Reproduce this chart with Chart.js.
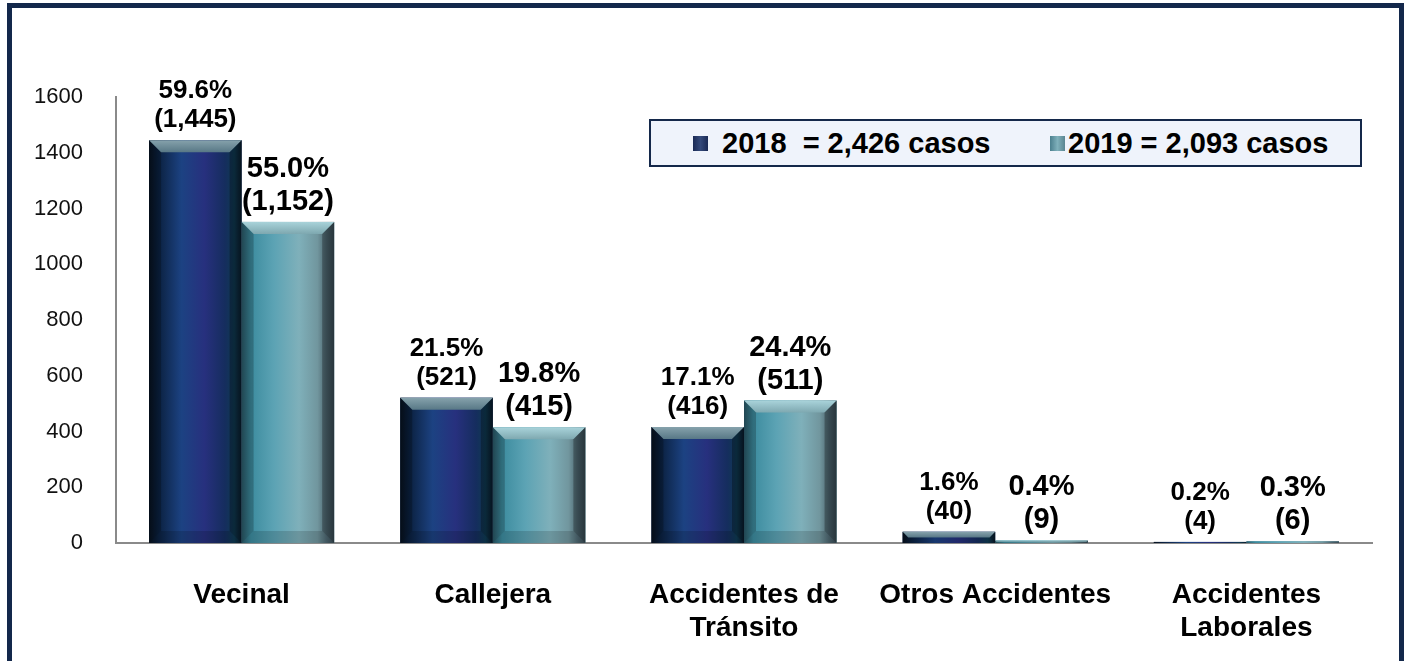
<!DOCTYPE html>
<html>
<head>
<meta charset="utf-8">
<script src="https://cdn.jsdelivr.net/npm/chart.js@4.4.0/dist/chart.umd.min.js"></script>
<style>
  html, body { margin: 0; padding: 0; background: #fff; overflow: hidden; }
  #wrap { position: relative; width: 1406px; height: 661px; font-family: "Liberation Sans", Arial, sans-serif; }
  #chart { position: absolute; left: 0; top: 0; }
  #frame { position: absolute; left: 7px; top: 3px; width: 1387px; height: 700px;
           border: 5px solid #13284b; border-bottom: none; pointer-events: none; }
  #legend { position: absolute; left: 649px; top: 119px; width: 709px; height: 44px;
            border: 2px solid #14284a; background: #eff3fb; display: flex; align-items: center;
            font-weight: bold; font-size: 29px; color: #000; }
  #legend .item { display: flex; align-items: center; }
  #legend .sw { width: 15px; height: 15px; display: inline-block; }
</style>
</head>
<body>
<div id="wrap">
  <canvas id="chart" width="1406" height="661"></canvas>
  <div id="frame"></div>
  <div id="legend"></div>
</div>
<script>
// data
const categories = [["Vecinal"], ["Callejera"], ["Accidentes de", "Tránsito"], ["Otros Accidentes"], ["Accidentes", "Laborales"]];
const seriesNames = ["2018", "2019"];
const seriesTotals = [2426, 2093];
const cases2018 = [1445, 521, 416, 40, 4];
const cases2019 = [1152, 415, 511, 9, 6];
const pct2018 = [59.6, 21.5, 17.1, 1.6, 0.2];
const pct2019 = [55.0, 19.8, 24.4, 0.4, 0.3];
const yMin = 0, yMax = 1600, yStep = 200;

const FONT = '"Liberation Sans", Arial, sans-serif';
const fmt = n => n.toLocaleString("en-US");

// colours for the bevelled bars
const palettes = [
  {
    base: "#162f63",
    body: [[0, "#07121f"], [0.1, "#0b2140"], [0.35, "#1c4282"], [0.6, "#27307e"], [0.82, "#152d5e"], [0.92, "#0f3a52"], [1, "#0a1b2b"]],
    top: ["#86a2ac", "#587886"],
    labelSize: 26, lineH: 29
  },
  {
    base: "#5f9fae",
    body: [[0, "#2b5a69"], [0.1, "#3d8c9f"], [0.35, "#5ca3b4"], [0.62, "#7fb0ba"], [0.82, "#71969e"], [0.92, "#4d6670"], [1, "#394b54"]],
    top: ["#a9d3da", "#7ea8b0"],
    labelSize: 29, lineH: 33
  }
];
const labelTexts = [
  { pct: pct2018, n: cases2018 },
  { pct: pct2019, n: cases2019 }
];

const bevelBars = {
  id: "bevelBars",
  afterDatasetsDraw(chart) {
    const ctx = chart.ctx;
    chart.data.datasets.forEach((ds, di) => {
      const meta = chart.getDatasetMeta(di);
      const pal = palettes[di];
      meta.data.forEach((bar, i) => {
        const { x, y, base, width } = bar.getProps(["x", "y", "base", "width"], true);
        const x0 = x - width / 2, x1 = x + width / 2, h = base - y;
        ctx.save();
        // body
        const g = ctx.createLinearGradient(x0, 0, x1, 0);
        pal.body.forEach(s => g.addColorStop(s[0], s[1]));
        ctx.fillStyle = g;
        ctx.fillRect(x0, y, width, h);
        const b = Math.min(12, h / 2);
        if (b > 1) {
          // top bevel
          const gt = ctx.createLinearGradient(0, y, 0, y + b);
          gt.addColorStop(0, pal.top[0]);
          gt.addColorStop(1, pal.top[1]);
          ctx.fillStyle = gt;
          ctx.beginPath();
          ctx.moveTo(x0, y); ctx.lineTo(x1, y); ctx.lineTo(x1 - b, y + b); ctx.lineTo(x0 + b, y + b);
          ctx.closePath(); ctx.fill();
          // left / right bevel
          ctx.fillStyle = "rgba(0,0,0,0.22)";
          ctx.beginPath();
          ctx.moveTo(x0, y); ctx.lineTo(x0 + b, y + b); ctx.lineTo(x0 + b, base - b); ctx.lineTo(x0, base);
          ctx.closePath(); ctx.fill();
          ctx.fillStyle = "rgba(0,0,0,0.28)";
          ctx.beginPath();
          ctx.moveTo(x1, y); ctx.lineTo(x1 - b, y + b); ctx.lineTo(x1 - b, base - b); ctx.lineTo(x1, base);
          ctx.closePath(); ctx.fill();
          // bottom bevel
          ctx.fillStyle = "rgba(0,0,0,0.15)";
          ctx.beginPath();
          ctx.moveTo(x0, base); ctx.lineTo(x0 + b, base - b); ctx.lineTo(x1 - b, base - b); ctx.lineTo(x1, base);
          ctx.closePath(); ctx.fill();
        }
        // labels: percentage and (count)
        const t = labelTexts[di];
        ctx.fillStyle = "#000";
        ctx.font = "bold " + pal.labelSize + "px " + FONT;
        ctx.textAlign = "center";
        ctx.textBaseline = "middle";
        const yl = y - 20;
        ctx.fillText("(" + fmt(t.n[i]) + ")", x, yl);
        ctx.fillText(t.pct[i].toFixed(1) + "%", x, yl - pal.lineH);
        ctx.restore();
      });
    });
  }
};

new Chart(document.getElementById("chart"), {
  type: "bar",
  data: {
    labels: categories,
    datasets: [
      { label: seriesNames[0], data: cases2018, backgroundColor: palettes[0].base, categoryPercentage: 0.737, barPercentage: 1 },
      { label: seriesNames[1], data: cases2019, backgroundColor: palettes[1].base, categoryPercentage: 0.737, barPercentage: 1 }
    ]
  },
  options: {
    responsive: false,
    animation: false,
    layout: { padding: { top: 97, right: 34, left: 0, bottom: 0 } },
    plugins: { legend: { display: false }, tooltip: { enabled: false } },
    scales: {
      x: {
        grid: { display: false },
        border: { color: "#8a8a8a", width: 2 },
        ticks: { color: "#000", font: { family: FONT, size: 28, weight: "bold", lineHeight: 1.18 }, padding: 28, maxRotation: 0, autoSkip: false },
        afterFit(s) { s.height = 118; }
      },
      y: {
        min: yMin, max: yMax,
        grid: { display: false },
        border: { color: "#8a8a8a", width: 2 },
        ticks: { stepSize: yStep, color: "#111", font: { family: FONT, size: 22 }, padding: 25, callback: v => String(v) },
        afterFit(s) { s.width = 116; }
      }
    }
  },
  plugins: [bevelBars]
});

// legend box
const legend = document.getElementById("legend");
const swatches = ["linear-gradient(90deg,#1a2a55,#34497a,#1a2a55)", "linear-gradient(90deg,#4b7f8e,#7fb0bb,#5a8591)"];
seriesNames.forEach((name, i) => {
  const item = document.createElement("div");
  item.className = "item";
  item.style.marginLeft = i === 0 ? "42px" : "0";
  item.style.width = i === 0 ? "357px" : "auto";
  item.innerHTML = '<span class="sw" style="background:' + swatches[i] + ';margin-right:' + (i === 0 ? 14 : 3) + 'px"></span>' +
    name + (i === 0 ? "&nbsp;" : "") + " = " + fmt(seriesTotals[i]) + " casos";
  legend.appendChild(item);
});
</script>
</body>
</html>
